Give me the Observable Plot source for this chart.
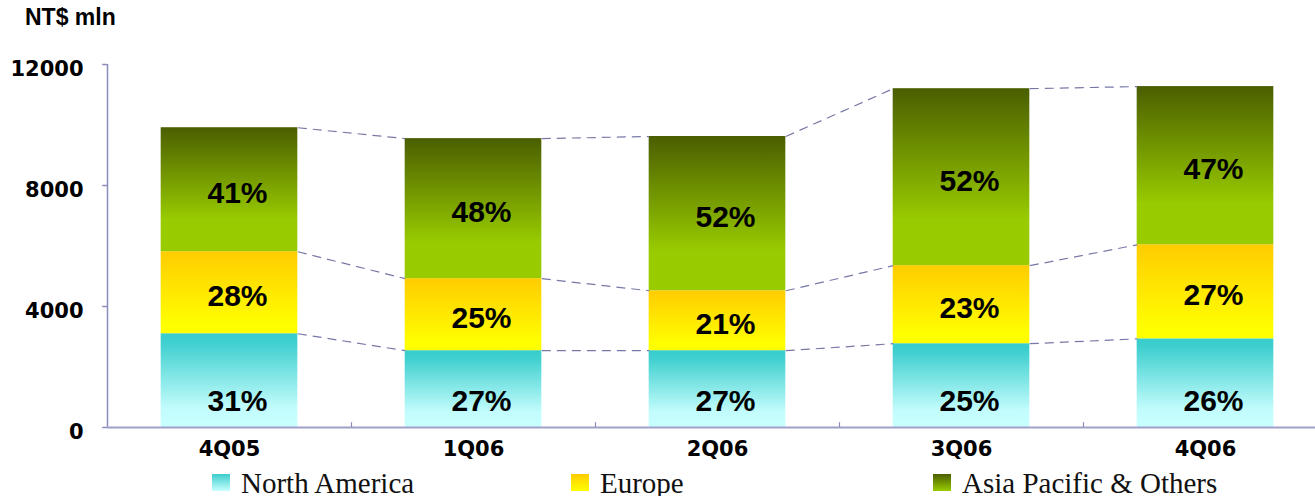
<!DOCTYPE html>
<html>
<head>
<meta charset="utf-8">
<script src="https://cdn.jsdelivr.net/npm/d3@7"></script>
<script src="https://cdn.jsdelivr.net/npm/@observablehq/plot@0.6"></script>
<style>
  html, body { margin: 0; padding: 0; background: #fff; overflow: hidden; width: 1315px; height: 496px; }
  #title { height: 40px; line-height: 36px; padding-left: 25px; padding-top: 4px; box-sizing: border-box; font: bold 23px "Liberation Sans", Arial, sans-serif; color: #000; }
  #chart svg { display: block; }
  #legend { position: relative; height: 36px; font-family: "Liberation Serif", "Times New Roman", serif; font-size: 29px; color: #111; }
  .item { position: absolute; top: 0; height: 36px; display: flex; align-items: center; white-space: nowrap; }
  .sw { width: 18px; height: 17px; margin-right: 11px; margin-top: 9px; }
  .lab { line-height: 36px; margin-top: 9px; }
</style>
</head>
<body>
<div id="title">NT$ mln</div>
<div id="chart"></div>
<div id="legend"></div>
<script>
// ---- data ----
const categories   = ["4Q05", "1Q06", "2Q06", "3Q06", "4Q06"];
const northAmerica = [3100, 2540, 2540, 2770, 2930];
const europe       = [2710, 2380, 1980, 2580, 3110];
const asiaPacific  = [4100, 4630, 5100, 5850, 5230];
const naShare      = ["31%", "27%", "27%", "25%", "26%"];
const euShare      = ["28%", "25%", "21%", "23%", "27%"];
const apShare      = ["41%", "48%", "52%", "52%", "47%"];
const yTicks       = [0, 4000, 8000, 12000];
const seriesNames  = ["North America", "Europe", "Asia Pacific & Others"];

// ---- derived table ----
const idx = categories.map((_, i) => i);
const naTop = northAmerica;
const euTop = idx.map(i => northAmerica[i] + europe[i]);
const apTop = idx.map(i => euTop[i] + asiaPacific[i]);
const half = 0.28; // half bar width in band units
const axisColor = "#8c8cbc";

const segments = [
  {fill: "url(#gNA)", y1: idx.map(() => 0), y2: naTop, label: naShare, ly: idx.map(i => Math.min(naTop[i] / 2, 1000))},
  {fill: "url(#gEU)", y1: naTop, y2: euTop, label: euShare, ly: idx.map(i => (naTop[i] + euTop[i]) / 2)},
  {fill: "url(#gAP)", y1: euTop, y2: apTop, label: apShare, ly: idx.map(i => (euTop[i] + apTop[i]) / 2)}
];

const marks = [];
for (const s of segments) {
  marks.push(Plot.rect(idx, {
    x1: i => i - half, x2: i => i + half,
    y1: i => s.y1[i], y2: i => s.y2[i],
    fill: s.fill
  }));
}
const pairs = idx.slice(0, -1);
for (const top of [naTop, euTop, apTop]) {
  marks.push(Plot.link(pairs, {
    x1: i => i + half, x2: i => i + 1 - half,
    y1: i => top[i], y2: i => top[i + 1],
    stroke: "#7878a8", strokeWidth: 1.2, strokeDasharray: "9,6"
  }));
}
for (const s of segments) {
  marks.push(Plot.text(idx, {
    x: i => i, y: i => s.ly[i], text: i => s.label[i],
    dx: 8, dy: 4,
    fontSize: 30, fontWeight: "bold", fontFamily: "Liberation Sans, Arial, sans-serif", fill: "#000"
  }));
}
// axes
marks.push(Plot.ruleX([-0.5], {y1: 0, y2: 12000, stroke: axisColor, strokeWidth: 1.5}));
marks.push(Plot.ruleY(yTicks, {x1: -0.52, x2: -0.5, stroke: axisColor, strokeWidth: 1.5}));
marks.push(Plot.ruleY([0], {x1: -0.5, x2: 4.6, stroke: "#a0a0c8", strokeWidth: 2}));
marks.push(Plot.ruleX(pairs.map(i => i + 0.5), {y1: 0, y2: 160, stroke: axisColor, strokeWidth: 1.2}));
marks.push(Plot.text(yTicks, {
  x: -0.5, y: d => d, text: d => String(d), dx: -24, dy: 5, textAnchor: "end",
  fontSize: 21, fontWeight: "bold", fontFamily: "DejaVu Sans, Verdana, sans-serif", fill: "#000"
}));
marks.push(Plot.text(idx, {
  x: i => i, y: 0, text: i => categories[i], dy: 22,
  fontSize: 21, fontWeight: "bold", fontFamily: "DejaVu Sans, Verdana, sans-serif", fill: "#000"
}));

const chart = Plot.plot({
  width: 1315,
  height: 420,
  x: {domain: [-0.5, 4.5], range: [107, 1327], axis: null},
  y: {domain: [0, 12000], range: [387, 24], axis: null},
  style: {background: "transparent", overflow: "visible"},
  marks
});

// gradients
const svg = d3.select(chart);
const defs = svg.insert("defs", ":first-child");
const grads = {
  gNA: [[0, "#38cccc"], [0.1, "#3fcfcf"], [0.8, "#c2fcfc"], [1, "#c8ffff"]],
  gEU: [[0, "#ffcc00"], [0.9, "#ffff00"], [1, "#ffff00"]],
  gAP: [[0, "#4a5e00"], [0.75, "#99cc00"], [1, "#99cc00"]]
};
for (const [id, stops] of Object.entries(grads)) {
  const g = defs.append("linearGradient").attr("id", id).attr("x1", 0).attr("y1", 0).attr("x2", 0).attr("y2", 1);
  for (const [o, c] of stops) g.append("stop").attr("offset", o).attr("stop-color", c);
}
document.getElementById("chart").appendChild(chart);

// legend
const legendCss = [
  "linear-gradient(#3ccccc, #c8ffff)",
  "linear-gradient(#ffcc00, #ffff00)",
  "linear-gradient(#4a5e00, #99cc00)"
];
const legendLeft = [212, 571, 933];
const legend = document.getElementById("legend");
seriesNames.forEach((name, i) => {
  const item = document.createElement("div");
  item.className = "item";
  item.style.left = legendLeft[i] + "px";
  item.innerHTML = `<div class="sw" style="background:${legendCss[i]}"></div><div class="lab">${name.replace("&", "&amp;")}</div>`;
  legend.appendChild(item);
});
</script>
</body>
</html>
